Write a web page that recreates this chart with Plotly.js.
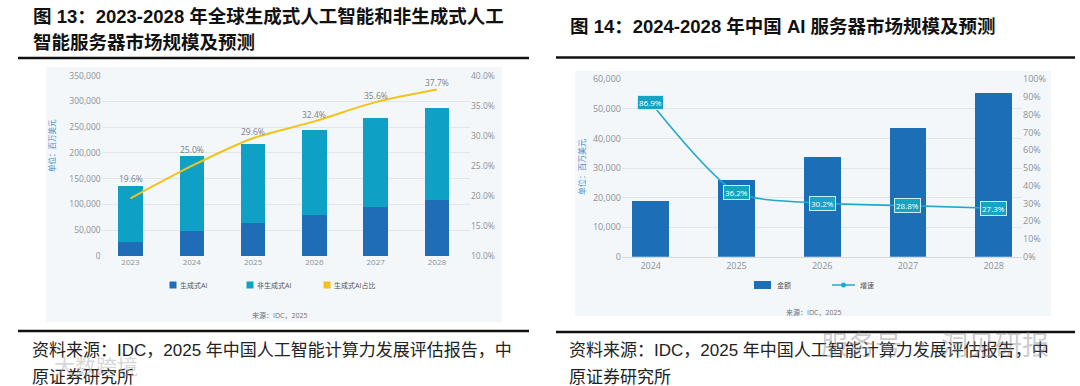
<!DOCTYPE html>
<html>
<head>
<meta charset="utf-8">
<script src="https://cdn.plot.ly/plotly-3.0.1.min.js"></script>
<style>
  html, body { margin: 0; padding: 0; background: #ffffff; }
  #chart { width: 1080px; height: 386px; }
</style>
</head>
<body>
<div id="chart"></div>
<script>
// ---------- DATA ----------
// Figure 13: global AI server market (million USD)
const years13 = ['2023', '2024', '2025', '2026', '2027', '2028'];
const genAI = [26700, 48300, 64100, 79200, 95100, 108300];
const nonGenAI = [109500, 144900, 152500, 165300, 172000, 179000];
const genShare = [19.6, 25.0, 29.6, 32.4, 35.6, 37.7];
const names13 = ['生成式AI', '非生成式AI', '生成式AI占比'];

// Figure 14: China AI server market (million USD)
const years14 = ['2024', '2025', '2026', '2027', '2028'];
const amount14 = [18900, 25800, 33700, 43400, 55200];
const growth14 = [86.9, 36.2, 30.2, 28.8, 27.3];
const names14 = ['金额', '增速'];

const title13a = '图 13：2023-2028 年全球生成式人工智能和非生成式人工';
const title13b = '智能服务器市场规模及预测';
const title14 = '图 14：2024-2028 年中国 AI 服务器市场规模及预测';
const sourceLine1 = '资料来源：IDC，2025 年中国人工智能计算力发展评估报告，中';
const sourceLine2 = '原证券研究所';
const innerSource = '来源：IDC，2025';
const unitLabel = '单位：百万美元';

// ---------- STYLE ----------
const W = 1080, H = 386;
const px = x => x / W;
const py = y => 1 - y / H;
const C_GEN = '#1f6db6';
const C_NONGEN = '#0ea1c5';
const C_SHARE = '#f2c318';
const C_BAR14 = '#1c6fb7';
const C_LINE14 = '#22a8cb';
const TICK = '#8b9096';
const GRID = '#e2e6ea';
const PANEL = '#f4f7fa';
const FONT_CJK = 'Liberation Sans, Noto Sans CJK SC, sans-serif';
const FONT_TICK = 'Open Sans, Noto Sans CJK SC, sans-serif';

const LEFT_MAX = 350000, SHARE_MIN = 10, SHARE_MAX = 40;

const traces = [
  { type: 'bar', name: names13[0], x: years13, y: genAI, xaxis: 'x', yaxis: 'y',
    marker: { color: C_GEN }, width: 0.4, hoverinfo: 'skip' },
  { type: 'bar', name: names13[1], x: years13, y: nonGenAI, xaxis: 'x', yaxis: 'y',
    marker: { color: C_NONGEN }, width: 0.4, hoverinfo: 'skip' },
  { type: 'scatter', mode: 'lines', name: names13[2], x: years13, y: genShare, xaxis: 'x', yaxis: 'y2',
    line: { color: C_SHARE, width: 2, shape: 'spline', smoothing: 0.8 }, hoverinfo: 'skip' },
  { type: 'bar', name: names14[0], x: years14, y: amount14, xaxis: 'x2', yaxis: 'y3',
    marker: { color: C_BAR14 }, width: 0.43, hoverinfo: 'skip' },
  { type: 'scatter', mode: 'lines', name: names14[1], x: years14, y: growth14, xaxis: 'x2', yaxis: 'y4',
    line: { color: C_LINE14, width: 1.6, shape: 'spline', smoothing: 0.7 }, hoverinfo: 'skip' }
];

const tickFont = (s) => ({ family: FONT_TICK, size: s, color: TICK });

const annotations = [];
// titles
annotations.push({ xref: 'paper', yref: 'paper', x: px(31), y: py(16), xanchor: 'left', yanchor: 'middle',
  text: '<b>' + title13a + '</b>', showarrow: false, font: { family: FONT_CJK, size: 18.5, color: '#111' } });
annotations.push({ xref: 'paper', yref: 'paper', x: px(31), y: py(43), xanchor: 'left', yanchor: 'middle',
  text: '<b>' + title13b + '</b>', showarrow: false, font: { family: FONT_CJK, size: 18.5, color: '#111' } });
annotations.push({ xref: 'paper', yref: 'paper', x: px(568), y: py(26), xanchor: 'left', yanchor: 'middle',
  text: '<b>' + title14 + '</b>', showarrow: false, font: { family: FONT_CJK, size: 18.5, color: '#111' } });
// bottom source lines
[30, 567].forEach(x0 => {
  annotations.push({ xref: 'paper', yref: 'paper', x: px(x0), y: py(350.5), xanchor: 'left', yanchor: 'middle',
    text: sourceLine1, showarrow: false, font: { family: FONT_CJK, size: 17, color: '#222' } });
  annotations.push({ xref: 'paper', yref: 'paper', x: px(x0), y: py(377.5), xanchor: 'left', yanchor: 'middle',
    text: sourceLine2, showarrow: false, font: { family: FONT_CJK, size: 17, color: '#222' } });
});
// inner sources
annotations.push({ xref: 'paper', yref: 'paper', x: px(279), y: py(315), xanchor: 'center', yanchor: 'middle',
  text: innerSource, showarrow: false, font: { family: FONT_TICK, size: 7, color: '#6a6f75' } });
annotations.push({ xref: 'paper', yref: 'paper', x: px(813), y: py(312), xanchor: 'center', yanchor: 'middle',
  text: innerSource, showarrow: false, font: { family: FONT_TICK, size: 7, color: '#6a6f75' } });
// unit labels
annotations.push({ xref: 'paper', yref: 'paper', x: px(52), y: py(146), xanchor: 'center', yanchor: 'middle',
  text: unitLabel, textangle: -90, showarrow: false, font: { family: FONT_TICK, size: 7.5, color: '#3b8fd1' } });
annotations.push({ xref: 'paper', yref: 'paper', x: px(581), y: py(167), xanchor: 'center', yanchor: 'middle',
  text: unitLabel, textangle: -90, showarrow: false, font: { family: FONT_TICK, size: 8, color: '#3b8fd1' } });

// share labels (above the higher of bar top / line point); x given as category index
years13.forEach((yr, i) => {
  const total = genAI[i] + nonGenAI[i];
  const barTopInShare = SHARE_MIN + (total / LEFT_MAX) * (SHARE_MAX - SHARE_MIN);
  annotations.push({ xref: 'x', yref: 'y2', x: i, y: Math.max(genShare[i], barTopInShare),
    yshift: 7, xanchor: 'center', yanchor: 'middle', showarrow: false,
    text: genShare[i].toFixed(1) + '%', font: { family: FONT_TICK, size: 8.5, color: '#7a7f85' } });
});
// growth labels (boxed)
years14.forEach((yr, i) => {
  annotations.push({ xref: 'x2', yref: 'y4', x: i, y: growth14[i], xanchor: 'center', yanchor: 'middle',
    showarrow: false, text: growth14[i].toFixed(1) + '%', bgcolor: '#17a3c3', bordercolor: '#cdeef6',
    borderwidth: 1, borderpad: 1, font: { family: FONT_TICK, size: 8, color: '#ffffff' } });
});

// manual legends
const legendText = (x, y, t) => annotations.push({ xref: 'paper', yref: 'paper', x: px(x), y: py(y),
  xanchor: 'left', yanchor: 'middle', text: t, showarrow: false, font: { family: FONT_TICK, size: 7, color: '#555' } });
const shapes = [];
const legCols13 = [C_GEN, C_NONGEN, C_SHARE];
[173, 250, 327].forEach((cx, i) => {
  shapes.push({ type: 'rect', xref: 'paper', yref: 'paper', x0: px(cx - 3.5), x1: px(cx + 3.5), y0: py(288.5), y1: py(281.5),
    fillcolor: legCols13[i], line: { width: 0 } });
  legendText(cx + 5, 285, names13[i]);
});
shapes.push({ type: 'rect', xref: 'paper', yref: 'paper', x0: px(754), x1: px(771), y0: py(289), y1: py(281),
  fillcolor: C_BAR14, line: { width: 0 } });
legendText(775, 285, names14[0]);
shapes.push({ type: 'line', xref: 'paper', yref: 'paper', x0: px(832), x1: px(855), y0: py(285), y1: py(285),
  line: { color: C_LINE14, width: 1.5 } });
shapes.push({ type: 'circle', xref: 'paper', yref: 'paper', x0: px(841), x1: px(846), y0: py(287.5), y1: py(282.5),
  fillcolor: C_LINE14, line: { color: C_LINE14, width: 0 } });
legendText(858, 285, names14[1]);

// panels
shapes.unshift({ type: 'rect', xref: 'paper', yref: 'paper', layer: 'below', x0: px(46), x1: px(502), y0: py(322), y1: py(67),
  fillcolor: PANEL, line: { width: 0 } });
shapes.unshift({ type: 'rect', xref: 'paper', yref: 'paper', layer: 'below', x0: px(575), x1: px(1051), y0: py(316), y1: py(71),
  fillcolor: PANEL, line: { width: 0 } });
// black rules
[[18, 529, 58], [18, 529, 331], [556, 1075, 57.5], [556, 1075, 332]].forEach(r => {
  shapes.push({ type: 'line', xref: 'paper', yref: 'paper', x0: px(r[0]), x1: px(r[1]), y0: py(r[2]), y1: py(r[2]),
    line: { color: '#111', width: 2.6 } });
});

// watermarks
annotations.push({ xref: 'paper', yref: 'paper', x: px(52), y: py(365), xanchor: 'left', yanchor: 'middle',
  text: '大数跨境', showarrow: false, font: { family: 'Noto Sans CJK SC', size: 21, color: 'rgba(175,175,175,0.5)' } });
annotations.push({ xref: 'paper', yref: 'paper', x: px(935), y: py(343), xanchor: 'center', yanchor: 'middle',
  text: '服务号 · 洞见研报', showarrow: false, font: { family: 'Noto Sans CJK SC', size: 27, color: 'rgba(140,140,140,0.45)' } });

const layout = {
  width: W, height: H,
  margin: { l: 0, r: 0, t: 0, b: 0, pad: 0 },
  paper_bgcolor: '#ffffff', plot_bgcolor: 'rgba(0,0,0,0)',
  showlegend: false, barmode: 'stack',
  xaxis: { domain: [px(101.7), px(470)], anchor: 'y', type: 'category', range: [-0.47, 5.54],
    showgrid: false, zeroline: false, showline: false, ticks: '', tickfont: tickFont(8), fixedrange: true },
  yaxis: { domain: [py(256), py(75.7)], anchor: 'x', range: [0, LEFT_MAX], dtick: 50000, tickformat: ',d',
    gridcolor: GRID, gridwidth: 1, zeroline: false, showline: false, ticks: '', tickfont: tickFont(8.5), fixedrange: true },
  yaxis2: { overlaying: 'y', side: 'right', anchor: 'x', range: [SHARE_MIN, SHARE_MAX], dtick: 5, tickformat: '.1f',
    ticksuffix: '%', showgrid: false, zeroline: false, showline: false, ticks: '', tickfont: tickFont(8.5), fixedrange: true },
  xaxis2: { domain: [px(622), px(1022)], anchor: 'y3', type: 'category', range: [-0.335, 4.33],
    showgrid: false, zeroline: false, showline: true, linecolor: '#d5dade', linewidth: 1, ticks: '', tickfont: tickFont(9), fixedrange: true },
  yaxis3: { domain: [py(256.7), py(79.3)], anchor: 'x2', range: [0, 60000], dtick: 10000, tickformat: ',d',
    gridcolor: GRID, gridwidth: 1, zeroline: false, showline: false, ticks: '', tickfont: tickFont(9), fixedrange: true },
  yaxis4: { overlaying: 'y3', side: 'right', anchor: 'x2', range: [0, 100], dtick: 10, ticksuffix: '%',
    showgrid: false, zeroline: false, showline: false, ticks: '', tickfont: tickFont(9), fixedrange: true },
  shapes: shapes,
  annotations: annotations
};

Plotly.newPlot('chart', traces, layout, { staticPlot: true, displayModeBar: false });
</script>
</body>
</html>
